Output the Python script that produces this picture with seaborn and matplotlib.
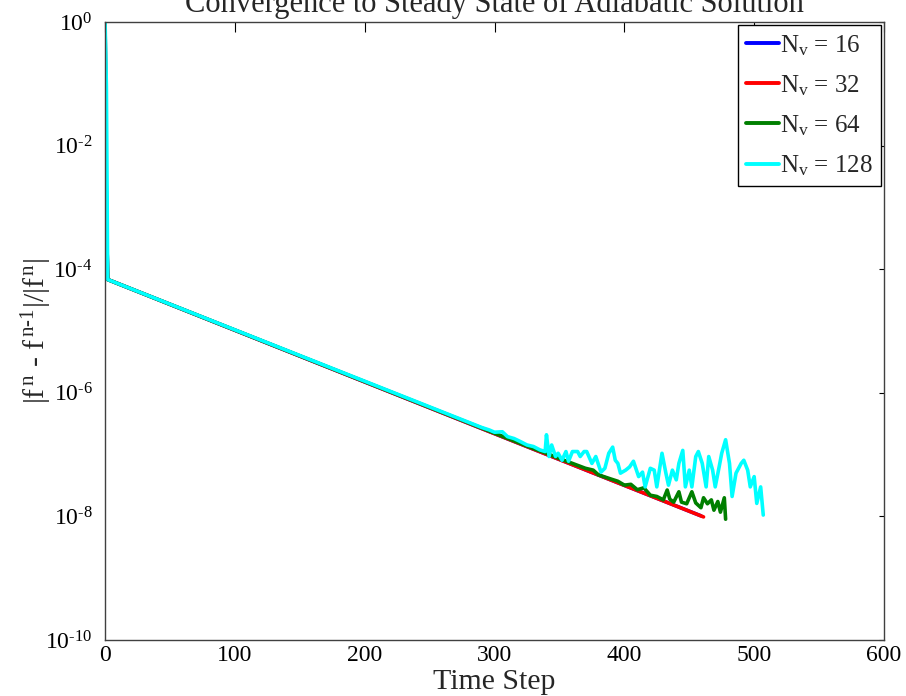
import matplotlib
matplotlib.use("Agg")
import matplotlib.pyplot as plt
import seaborn as sns
import pandas as pd
from matplotlib.ticker import FuncFormatter, NullLocator, FixedLocator

# ---------------- data ----------------
labels = ["N$_\\mathrm{v}$ = 16", "N$_\\mathrm{v}$ = 32",
          "N$_\\mathrm{v}$ = 64", "N$_\\mathrm{v}$ = 128"]
colors = ["#0000ff", "#ff0000", "#007f00", "#00ffff"]

blue_step = [0, 1, 2, 459]
blue_val = [1.0, 8e-4, 6.8e-5, 1.02e-8]

red_step = [0, 1, 2, 461]
red_val = [1.0, 8e-4, 6.8e-5, 9.8e-9]

green_step = [0, 1, 2, 330, 340, 350, 360, 370, 376, 380, 390, 395, 400,
              405, 410, 415, 420, 425, 430, 433, 435, 438, 442, 444, 448,
              452, 455, 459, 461, 464, 467, 469, 472, 474, 477, 478]
green_val = [1.0, 8e-4, 6.8e-5, 1.25e-7, 1.05e-7, 8.6e-8, 7.2e-8, 6.0e-8,
             5.6e-8, 4.7e-8, 4.0e-8, 3.7e-8, 3.2e-8, 3.3e-8, 2.7e-8, 2.9e-8,
             2.2e-8, 2.1e-8, 1.85e-8, 2.67e-8, 1.9e-8, 1.7e-8, 2.5e-8, 1.7e-8,
             1.6e-8, 2.5e-8, 1.65e-8, 1.38e-8, 2.0e-8, 1.6e-8, 1.85e-8,
             1.26e-8, 1.74e-8, 1.17e-8, 2.0e-8, 9.0e-9]

cyan_step = [0, 1, 2, 290, 296, 300, 306, 310, 315, 320, 325, 330, 335, 339,
             340, 342, 344, 347, 349, 352, 355, 357, 360, 364, 366, 369, 371,
             375, 378, 382, 385, 388, 391, 393, 395, 397, 401, 404, 407, 411,
             414, 416, 420, 423, 425, 429, 432, 434, 437, 440, 442, 445, 447,
             450, 452, 455, 457, 460, 463, 465, 468, 470, 473, 475, 478, 481,
             483, 486, 490, 492, 495, 497, 500, 502, 505, 507]
cyan_val = [1.0, 0.09, 6.8e-5, 2.75e-7, 2.5e-7, 2.3e-7, 2.34e-7, 1.95e-7,
            1.82e-7, 1.62e-7, 1.43e-7, 1.35e-7, 1.19e-7, 1.12e-7, 2.09e-7,
            9.3e-8, 1.43e-7, 9.3e-8, 1.05e-7, 8.1e-8, 1.12e-7, 7.8e-8, 1.12e-7,
            1.12e-7, 9.3e-8, 1.12e-7, 1.12e-7, 7.2e-8, 9.3e-8, 5.2e-8, 6.0e-8,
            1.05e-7, 1.32e-7, 8.1e-8, 7.2e-8, 5.0e-8, 5.6e-8, 6.3e-8, 7.8e-8,
            4.4e-8, 5.2e-8, 3.0e-8, 6.0e-8, 5.6e-8, 3.0e-8, 1.05e-7, 5.0e-8,
            3.2e-8, 5.6e-8, 3.9e-8, 7.2e-8, 1.17e-7, 3.0e-8, 5.6e-8, 3.0e-8,
            9.3e-8, 1.12e-7, 7.2e-8, 3.0e-8, 9.3e-8, 5.6e-8, 3.0e-8, 6.3e-8,
            1.05e-7, 1.74e-7, 7.2e-8, 2.1e-8, 5.0e-8, 7.2e-8, 8.1e-8, 5.6e-8,
            3.0e-8, 4.4e-8, 1.62e-8, 3.0e-8, 1.05e-8]

x_ticks = [0, 100, 200, 300, 400, 500, 600]
y_ticks = [1e-10, 1e-8, 1e-6, 1e-4, 1e-2, 1e0]
y_exponents = [-10, -8, -6, -4, -2, 0]

title = "Convergence to Steady State of Adiabatic Solution"
xlabel = "Time Step"
ylabel = r"|f$^{\mathrm{\,n}}$ - f$^{\mathrm{\,n\text{-}1}}$|/|f$^{\mathrm{\,n}}$|"

# ---------------- build table ----------------
frames = []
for lab, st, va in zip(labels, [blue_step, red_step, green_step, cyan_step],
                       [blue_val, red_val, green_val, cyan_val]):
    frames.append(pd.DataFrame({"step": st, "value": va, "series": lab}))
df = pd.concat(frames, ignore_index=True)

# ---------------- style ----------------
sns.set_theme(style="white")
plt.rcParams["font.family"] = ["Liberation Serif", "DejaVu Serif"]
plt.rcParams["mathtext.fontset"] = "custom"
plt.rcParams["mathtext.rm"] = "Liberation Serif"
plt.rcParams["mathtext.it"] = "Liberation Serif:italic"
plt.rcParams["mathtext.bf"] = "Liberation Serif:bold"

fig = plt.figure(figsize=(9.06, 6.96), dpi=100)
ax = fig.add_axes([0.116, 0.0805, 0.8597, 0.8879])

sns.lineplot(data=df, x="step", y="value", hue="series", hue_order=labels,
             palette=colors, estimator=None, sort=False, linewidth=2.6,
             ax=ax, legend=True)

ax.set_yscale("log")
ax.set_xlim(0, 600)
ax.set_ylim(1e-10, 1e0)
ax.xaxis.set_major_locator(FixedLocator(x_ticks))
ax.yaxis.set_major_locator(FixedLocator(y_ticks))
ax.yaxis.set_minor_locator(NullLocator())


def yfmt(v, pos):
    e = y_exponents[pos] if pos is not None and pos < len(y_exponents) else 0
    s = str(e).replace("-", r"\text{-}")
    return r"$\mathdefault{10^{%s}}$" % s


ax.yaxis.set_major_formatter(FuncFormatter(yfmt))

ax.tick_params(axis="both", which="major", direction="in", top=True,
               right=True, labelsize=17, colors="black", width=0.8)
ax.tick_params(axis="x", length=7, pad=3.5)
ax.tick_params(axis="y", length=3.5, pad=9)
for sp in ax.spines.values():
    sp.set_color("#404040")
    sp.set_linewidth(1.0)

ax.set_title(title, fontsize=22, pad=7)
ax.set_xlabel(xlabel, fontsize=21.5)
ax.xaxis.set_label_coords(0.5, -0.0795)
ax.xaxis.label.set_va("baseline")
ax.set_ylabel(ylabel, fontsize=21.5)
ax.yaxis.set_label_coords(-0.066, 0.5)

h, l = ax.get_legend_handles_labels()
leg = ax.legend(h, l, loc="upper right", fontsize=18, frameon=True,
                fancybox=False, framealpha=1, edgecolor="black",
                handlelength=1.3, handletextpad=0.05, borderpad=0.32,
                labelspacing=0.62, borderaxespad=0.12)
leg.get_frame().set_linewidth(1.0)
for line in leg.get_lines():
    line.set_linewidth(2.8)

fig.savefig("out.png", dpi=100)
